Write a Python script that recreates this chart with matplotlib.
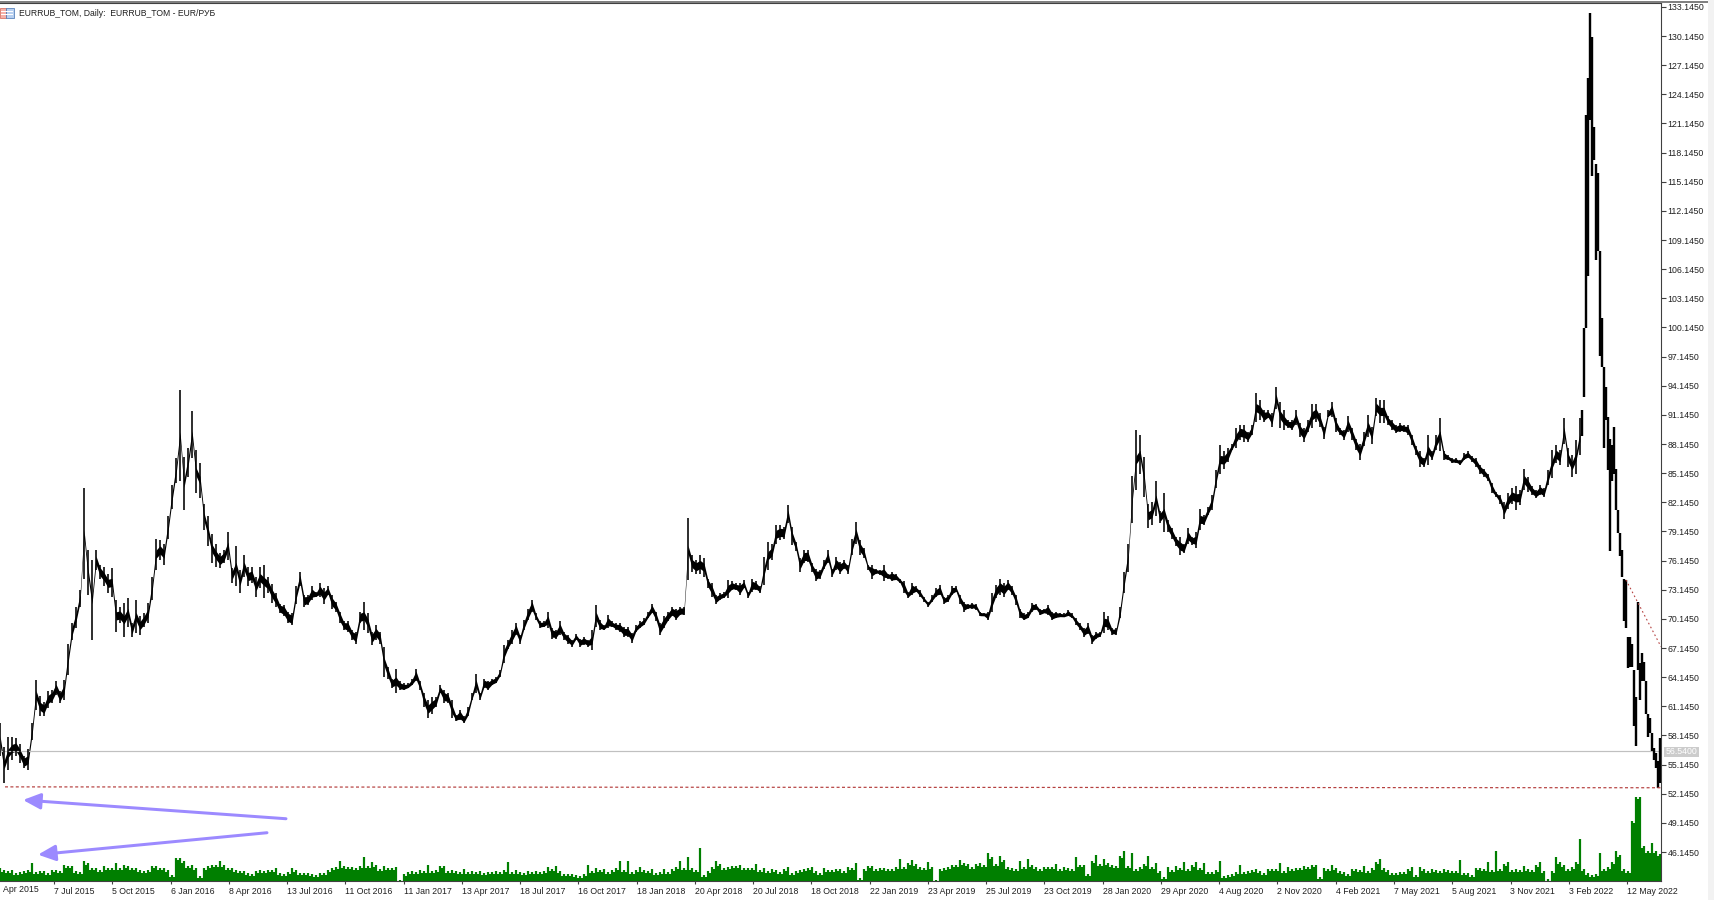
import numpy as np
import matplotlib
matplotlib.use("Agg")
import matplotlib.pyplot as plt
from matplotlib.patches import Rectangle

W, H = 1714, 900
plt.rcParams['font.family'] = ['Liberation Sans', 'DejaVu Sans']

# ---- daily range, one sample every 4 bars ----
high = [
    59.4,57.0,58.0,58.0,57.9,57.3,56.0,56.7,59.4,63.9,62.2,61.6,62.7,62.8,63.7,62.7,63.9,67.6,69.7,71.4,73.1,83.6,77.2,76.2,77.2,75.7,75.5,74.8,75.4,72.1,71.4,71.8,72.3,69.7,72.1,70.4,70.7,71.8,74.5,78.4,78.3,77.9,80.7,83.9,86.7,93.7,86.8,87.7,91.5,87.5,86.2,82.0,80.7,78.9,77.9,76.9,77.2,79.1,75.4,77.6,75.2,76.7,75.5,75.5,74.5,75.5,75.7,74.5,73.7,72.8,
    71.7,71.6,70.9,70.7,73.5,75.0,72.6,72.6,73.5,72.9,73.8,73.3,73.5,72.6,71.9,70.9,69.9,69.9,69.0,68.8,70.9,71.9,70.7,68.8,69.5,68.8,67.3,65.2,64.0,65.0,63.7,63.5,63.5,64.0,65.0,63.7,62.5,61.8,62.1,62.1,63.3,62.8,62.5,61.8,60.3,60.8,60.1,61.1,62.5,64.5,62.5,64.0,63.8,64.0,64.2,64.9,67.5,68.0,69.0,69.7,68.5,70.0,71.2,72.1,70.7,69.9,69.9,70.9,69.2,69.0,
    69.9,68.8,68.5,68.0,68.6,68.1,68.3,68.0,69.0,71.6,70.0,69.5,70.5,69.9,69.7,69.7,69.3,69.3,68.7,69.5,69.9,70.2,70.9,71.7,70.9,69.7,70.4,70.9,71.4,71.2,71.4,71.4,80.5,76.7,76.2,76.7,76.4,74.3,73.8,72.6,72.8,72.9,74.1,74.0,73.8,73.8,74.1,72.9,74.3,74.0,73.5,76.5,78.1,77.9,79.8,79.8,79.6,81.9,79.6,78.1,76.4,77.2,77.2,75.9,75.3,75.2,76.2,77.2,75.3,76.5,
    76.0,76.2,75.7,78.4,80.1,78.3,77.4,75.7,75.7,75.3,75.2,75.7,74.8,75.0,74.8,74.3,74.0,72.9,73.8,73.5,73.1,72.4,71.9,72.6,73.3,73.6,72.4,72.6,73.5,73.5,72.6,71.9,71.7,71.8,71.7,70.9,70.8,70.9,72.8,73.6,74.3,73.8,74.1,73.5,72.6,71.2,70.7,70.9,71.8,71.7,71.2,71.2,71.6,70.9,70.9,70.8,70.7,71.1,70.7,70.2,69.7,69.2,69.7,68.5,68.8,68.8,70.9,70.4,69.2,69.2,
    71.4,75.0,77.9,84.9,89.6,89.1,86.8,82.0,82.2,84.3,81.2,83.1,80.3,79.5,78.6,78.6,77.9,79.5,78.6,79.1,81.5,80.8,81.7,82.9,85.5,88.0,87.4,87.7,88.2,89.8,90.1,90.1,89.4,90.1,93.4,92.7,91.6,91.6,91.3,94.0,92.5,91.6,90.6,90.6,91.6,90.3,89.8,90.6,92.3,92.3,91.3,89.9,91.6,92.5,90.8,89.8,89.6,91.0,89.8,88.7,88.2,89.4,91.1,89.9,92.9,92.7,92.7,91.0,90.6,90.1,
    90.3,90.1,90.1,89.1,87.9,87.4,86.7,89.1,87.4,89.1,90.8,87.4,87.0,86.7,86.7,86.5,87.2,87.4,86.9,86.7,86.0,85.6,85.1,84.1,83.2,82.9,82.2,83.1,83.6,83.8,83.4,85.6,84.8,83.8,83.4,83.9,83.6,85.5,87.5,88.0,87.5,90.8,87.7,87.0,88.6,90.8,
]
low = [
    56.0,53.2,54.6,55.6,56.0,55.3,54.8,54.6,57.7,60.8,60.1,60.1,61.0,61.5,62.3,61.5,61.8,64.4,68.0,69.2,71.4,74.2,72.6,68.0,75.2,74.3,73.5,72.8,72.4,68.8,69.7,68.3,69.3,68.3,68.7,68.5,69.3,69.7,72.1,75.2,76.2,75.7,78.4,81.5,84.1,84.3,81.4,84.8,86.7,83.1,82.6,79.3,77.6,75.9,75.5,75.4,75.9,76.2,73.8,73.5,72.8,74.5,73.5,73.8,72.4,73.3,72.3,72.8,71.8,71.4,
    70.7,70.4,69.7,69.5,71.7,73.5,71.4,71.6,72.1,72.4,72.4,71.7,72.6,71.2,70.9,69.7,69.0,68.8,68.0,67.6,69.7,69.0,68.7,67.5,68.0,67.6,64.2,64.0,63.0,62.5,62.8,62.8,63.0,63.3,63.7,62.8,61.1,59.9,60.4,61.1,62.5,61.5,61.5,59.9,59.6,59.7,59.4,60.1,61.8,62.5,61.8,63.0,62.8,63.3,63.5,64.2,65.6,67.0,67.6,68.5,67.6,69.0,70.0,70.9,70.0,69.2,69.3,69.2,68.1,68.1,
    68.5,68.0,67.6,67.3,68.0,67.3,67.5,67.3,66.9,69.3,69.0,69.0,69.2,69.3,69.0,68.8,68.3,68.3,67.7,68.8,69.2,69.5,70.2,70.7,69.9,68.5,69.2,69.9,70.4,70.0,70.5,70.5,74.1,75.0,74.8,74.8,74.5,73.3,72.4,71.7,72.1,72.3,72.3,73.1,73.1,72.6,73.3,72.3,72.9,73.1,72.8,73.6,75.2,76.2,77.9,78.3,78.4,80.0,77.8,77.1,75.0,75.9,76.0,75.0,74.0,74.3,75.3,75.9,74.5,75.2,
    74.8,75.3,74.8,76.7,77.9,76.7,76.4,75.2,74.3,74.8,74.7,74.0,74.3,74.0,74.1,73.8,72.8,72.3,72.6,72.9,72.4,71.9,71.4,71.9,72.4,72.6,71.7,71.9,72.6,72.9,71.7,70.9,71.2,71.2,71.1,70.4,70.4,70.0,70.9,72.3,72.6,72.4,73.1,72.6,71.6,70.2,70.0,70.2,70.9,71.1,70.5,70.7,70.5,70.0,70.2,70.3,70.3,70.4,70.2,69.5,69.0,68.3,68.6,67.6,68.1,68.3,68.7,69.0,68.5,68.5,
    70.2,72.8,75.0,80.0,83.4,85.1,82.7,79.5,79.8,80.7,80.0,79.1,79.1,78.4,77.6,76.7,76.9,77.9,77.8,77.4,79.3,79.8,80.8,81.4,83.6,85.1,85.6,86.3,87.5,87.7,88.6,88.4,88.4,89.1,90.4,90.6,90.4,90.8,89.9,91.8,89.8,89.6,89.8,89.6,90.1,88.9,88.4,89.4,89.8,90.4,89.9,88.7,90.9,90.9,89.4,89.1,88.6,89.4,88.6,87.5,86.5,87.9,88.9,88.2,91.0,90.3,90.3,90.1,89.6,89.3,
    89.4,89.4,89.1,88.0,87.0,85.8,85.8,86.0,86.5,87.5,87.4,86.5,86.5,86.2,86.2,86.0,86.5,86.7,86.3,85.8,85.1,84.8,84.3,83.1,82.7,82.0,80.4,81.5,82.0,81.4,81.9,83.4,83.2,82.9,82.6,82.9,82.7,83.9,84.6,86.2,86.0,88.2,85.8,84.8,85.1,87.0,
]
# the 2022 spike and collapse, one sample every 2 bars
high_tail = [91.7,100.1,122.0,125.8,132.5,130.1,120.8,117.0,116.0,108.0,101.1,96.1,94.0,90.9,88.7,88.0,89.9,85.6,81.4,79.0,77.2,74.3,74.1,68.3,68.3,67.6,64.9,62.1,71.9,65.6,66.6,65.7,63.7,60.4,59.9,58.4,56.9,56.3,55.5,57.9]
low_tail = [89.0,93.0,100.1,105.4,121.5,115.7,117.4,107.1,108.0,97.2,96.1,87.7,90.6,85.5,77.1,84.3,85.1,81.4,79.0,76.6,74.5,69.9,69.2,65.1,65.2,65.2,59.1,57.1,64.9,61.8,63.7,63.7,60.4,58.0,58.4,56.5,55.6,54.8,52.7,53.3]

# tick volume, one sample every 4 bars
volume = [
    13,11,10,11,8,9,10,11,18,9,10,10,8,11,11,10,16,15,15,10,9,20,18,13,13,11,15,13,13,18,13,16,15,13,13,11,10,11,15,15,13,13,11,6,23,23,20,15,16,13,5,13,15,16,16,20,16,13,13,11,10,10,8,7,10,11,10,11,11,13,
    8,7,9,13,11,8,8,8,7,6,8,8,11,13,14,20,15,14,14,13,15,24,15,19,16,12,15,13,13,14,1,7,9,10,9,11,10,16,10,11,15,15,10,11,10,9,12,9,10,9,10,8,9,9,10,9,11,19,9,11,9,8,10,9,10,9,10,14,12,15,
    10,7,7,7,6,5,7,16,10,13,11,12,9,11,13,20,11,20,9,11,14,11,10,12,8,9,12,9,12,14,20,13,24,13,11,33,6,10,14,20,17,13,14,15,15,16,13,13,13,17,11,13,10,12,11,9,12,14,8,10,11,12,13,14,10,8,13,11,11,12,
    12,10,14,13,18,3,12,15,15,12,13,13,12,12,14,22,14,18,21,17,14,13,19,14,1,12,13,14,16,16,21,18,17,14,17,18,16,28,24,17,25,21,14,13,12,20,14,22,16,14,12,14,14,14,17,12,14,13,12,24,16,16,7,20,26,17,22,18,16,15,
    25,30,15,28,12,14,17,25,14,18,10,4,14,11,15,13,19,12,16,19,13,18,9,9,11,20,5,6,7,9,16,9,10,11,12,10,8,12,12,12,18,10,14,12,13,13,15,14,16,16,4,13,12,16,13,10,9,7,12,12,11,15,10,13,19,22,13,11,8,8,
    9,9,12,14,6,14,12,10,12,11,10,12,11,10,10,21,8,8,6,13,13,12,19,11,30,12,17,19,11,12,11,15,12,11,16,19,10,2,10,24,19,16,12,14,19,42,12,8,6,7,28,12,14,19,30,26,12,10,60,84,84,35,30,38,30,27,
]

x_labels = ["7 Jul 2015","5 Oct 2015","6 Jan 2016","8 Apr 2016","13 Jul 2016","11 Oct 2016","11 Jan 2017","13 Apr 2017",
            "18 Jul 2017","16 Oct 2017","18 Jan 2018","20 Apr 2018","20 Jul 2018","18 Oct 2018","22 Jan 2019","23 Apr 2019",
            "25 Jul 2019","23 Oct 2019","28 Jan 2020","29 Apr 2020","4 Aug 2020","2 Nov 2020","4 Feb 2021","7 May 2021",
            "5 Aug 2021","3 Nov 2021","3 Feb 2022","12 May 2022"]
last_price = 56.54
support = [52.85, 52.76]
trend = [74.15, 67.28]
arrow_heads = [(23, 51.5), (38, 45.87)]
arrow_tails = [(286, 49.57), (267, 48.13)]
PURPLE = "#9c8aff"
GREEN = "#007f00"
RED = "#b5403f"

# ---- layout, everything in pixels of the 1714x900 picture ----
fig = plt.figure(figsize=(W / 100, H / 100), dpi=100)
left, right, top, bottom = 0, 1661, 3, 881
ax = fig.add_axes([left / W, 1 - bottom / H, (right - left) / W, (bottom - top) / H])
ax.set_xlim(0, right)
ax.set_ylim(43.16, 133.55)

x_main = np.arange(len(high)) * 4
x_tail = x_main[-1] + 2 + np.arange(len(high_tail)) * 2
x_vol = np.arange(len(volume)) * 4

# volume sits on its own scale, 1 unit = 1 pixel
ax_vol = ax.twinx()
ax_vol.set_ylim(0, bottom - top)
ax_vol.axis("off")
ax_vol.set_zorder(0)
ax.set_zorder(1)
ax.patch.set_visible(False)
vol = np.array(volume)
valley = np.minimum(vol, np.roll(vol, -1))
ax_vol.vlines(x_vol, 0, vol, color=GREEN, lw=2.2 * 0.72)
ax_vol.vlines(x_vol + 2, 0, valley - 2, color=GREEN, lw=2.2 * 0.72)

# price band
px = 72 / 100
high, low = np.array(high), np.array(low)
ax.vlines(x_main, low, high, color="black", lw=1.6 * px)
mid = (high + low) / 2
body = np.minimum((high - low) * 0.35, 0.42)
ax.fill_between(x_main, mid - body, mid + body, color="black", lw=0)
ax.vlines(x_tail, low_tail, high_tail, color="black", lw=2.4 * px)

# levels and trend
ax.axhline(last_price, color="#c0c0c0", lw=1.2 * px, zorder=1)
ax.plot([5, right], support, color=RED, lw=1.2 * px, ls=(0, (2.5, 2)))
ax.plot([1626, right], trend, color=RED, lw=1.1 * px, ls=(0, (1.5, 2.5)))

# hand-drawn arrows
for head, tail in zip(arrow_heads, arrow_tails):
    ax.annotate("", xy=head, xytext=tail, annotation_clip=False,
                arrowprops=dict(arrowstyle="-|>,head_length=1.05,head_width=0.48", mutation_scale=10,
                                color=PURPLE, lw=3 * px, shrinkA=0, shrinkB=0))

# axes frame
ax.spines["left"].set_visible(False)
for side in ["top", "right", "bottom"]:
    ax.spines[side].set_color("#404040")
    ax.spines[side].set_linewidth(1.1 * px)

# price scale
y_ticks = np.arange(46.145, 133.2, 3)
ax.yaxis.tick_right()
ax.set_yticks(y_ticks)
ax.set_yticklabels(["%.4f" % v for v in y_ticks])
ax.tick_params(axis="y", length=5 * px, width=0.8, color="#404040", labelsize=6.3, labelcolor="#202020", pad=1)

# time scale
ax.set_xticks(54 + np.arange(len(x_labels)) * 58.26)
ax.set_xticklabels(x_labels, ha="left")
ax.tick_params(axis="x", length=3 * px, width=0.8, color="#404040", labelsize=6.3, labelcolor="#202020", pad=2.5)
fig.text(3 / W, 1 - 890 / H, "Apr 2015", fontsize=6.3, color="#202020", va="center")

# current price box
fig.patches.append(Rectangle((1664 / W, 1 - 756.5 / H), 35 / W, 9.5 / H, transform=fig.transFigure,
                             facecolor="#cccccc", edgecolor="none"))
fig.text(1666 / W, 1 - 752 / H, "56.5400", fontsize=6.3, color="white", va="center")

# window chrome
fig.patches.append(Rectangle((0, 1 - 3 / H), 1, 1.6 / H, transform=fig.transFigure, facecolor="#808080", edgecolor="none"))
fig.patches.append(Rectangle((1708 / W, 0), 6 / W, 1, transform=fig.transFigure, facecolor="#f2f2f2", edgecolor="none"))

# chart icon and title
fig.patches.append(Rectangle((0, 1 - 18 / H), 6 / W, 10 / H, transform=fig.transFigure, facecolor="#f4b0a8", edgecolor="#d06050", lw=0.5))
fig.patches.append(Rectangle((6 / W, 1 - 18 / H), 8 / W, 10 / H, transform=fig.transFigure, facecolor="#b8d0f0", edgecolor="#4070b0", lw=0.5))
for row in (11.5, 14.5):
    fig.patches.append(Rectangle((1 / W, 1 - row / H), 12 / W, 1 / H, transform=fig.transFigure, facecolor="white", edgecolor="none"))
fig.text(19 / W, 1 - 13 / H, "EURRUB_TOM, Daily:  EURRUB_TOM - EUR/РУБ", fontsize=6.2, color="#202020", va="center")

fig.savefig("out.png", dpi=100)
